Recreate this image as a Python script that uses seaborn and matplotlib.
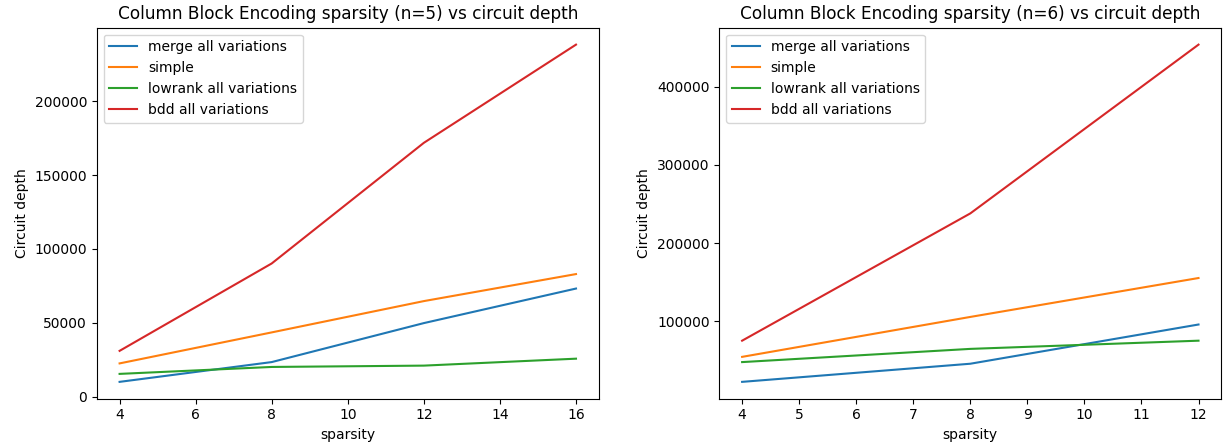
import pandas as pd
import seaborn as sns
import matplotlib.pyplot as plt

methods = ['merge all variations', 'simple', 'lowrank all variations', 'bdd all variations']

# n=5
sparsity_n5 = [4, 8, 12, 16]
merge_n5 = [10000, 23400, 49800, 73200]
simple_n5 = [22500, 43500, 64700, 83000]
lowrank_n5 = [15400, 20100, 21000, 25700]
bdd_n5 = [31000, 90200, 171900, 238400]

# n=6
sparsity_n6 = [4, 8, 12]
merge_n6 = [22400, 45600, 95800]
simple_n6 = [54400, 105500, 155300]
lowrank_n6 = [47700, 64600, 75100]
bdd_n6 = [75100, 238000, 454000]


def to_long(sparsity, series):
    rows = []
    for name, values in zip(methods, series):
        for s, v in zip(sparsity, values):
            rows.append({'sparsity': s, 'depth': v, 'method': name})
    return pd.DataFrame(rows)


df5 = to_long(sparsity_n5, [merge_n5, simple_n5, lowrank_n5, bdd_n5])
df6 = to_long(sparsity_n6, [merge_n6, simple_n6, lowrank_n6, bdd_n6])

fig, axes = plt.subplots(1, 2, figsize=(12.25, 4.48), dpi=100)

for ax, df, n in [(axes[0], df5, 5), (axes[1], df6, 6)]:
    sns.lineplot(data=df, x='sparsity', y='depth', hue='method',
                 hue_order=methods, palette='tab10', ax=ax)
    ax.set_title(f'Column Block Encoding sparsity (n={n}) vs circuit depth', fontsize=12.2)
    ax.set_xlabel('sparsity')
    ax.set_ylabel('Circuit depth')
    ax.legend(loc='upper left', title=None)

plt.subplots_adjust(left=0.079, right=0.997, top=0.938, bottom=0.11, wspace=0.24)
plt.savefig('out.png')
